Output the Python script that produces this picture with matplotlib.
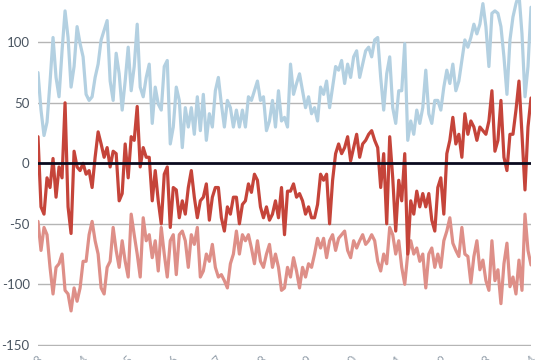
import matplotlib.pyplot as plt
import numpy as np

# values, one point every ~3 px
blue = [75, 44, 23, 34, 67, 104, 71, 55, 93, 126, 104, 63, 80, 113, 99, 88, 57, 52, 55, 71,
        82, 102, 110, 118, 68, 52, 91, 74,
        44, 68, 96, 60, 80, 115, 63, 55, 71, 82, 33, 63, 49, 44, 80, 85, 16, 30, 63, 52,
        13, 46, 30, 46, 24, 55, 27,
        57, 19, 41, 30, 60, 71, 49, 30, 52, 46, 30, 44, 30, 44, 30, 55, 52, 60, 68, 52,
        55, 27, 35, 52, 30, 60, 35,
        38, 30, 82, 57, 66, 74, 60, 46, 55, 41, 46, 35, 63, 57, 68, 46, 63, 80, 77, 85,
        66, 82, 71, 88, 93, 71, 82, 93,
        96, 88, 102, 104, 71, 44, 74, 88, 46, 33, 60, 60, 99, 19, 35, 24, 44, 33, 46, 77,
        41, 33, 52, 52, 44, 63, 77,
        66, 82, 60, 68, 85, 102, 96, 104, 115, 107, 115, 132, 113, 80, 124, 126, 124, 113,
        88, 57, 102, 121, 132, 140, 107, 55, 80, 129]

red = [22, -36, -42, -12, -20, 4, -28, -3, -12, 50, -36, -58, 10, -3, -6, 0, -9, -6, -20, 5,
       26, 16, 5, 13, -3, 10, 8, -31,
       -25, 16, -12, 22, 19, 47, -3, 13, 5, 5, -31, -6, -31, -50, -9, -3, -53, -20, -22, -45,
       -31, -42, -20, -6, -28, -45, -31,
       -28, -17, -47, -28, -20, -20, -45, -56, -36, -42, -28, -28, -50, -34, -31, -17, -24,
       -9, -14, -36, -45, -36, -47, -42, -31, -45, -20,
       -59, -23, -23, -17, -28, -25, -31, -42, -36, -45, -45, -34, -9, -14, -9, -50, -14, 8,
       16, 8, 13, 22, 2, 13, 24, 5, 16, 19,
       24, 27, 19, 13, -20, 8, -50, 22, -12, -56, -14, -31, 8, -75, -31, -42, -23, -36, -25,
       -36, -25, -47, -56, -20, -12, -42, 8,
       19, 38, 16, 24, 5, 41, 24, 35, 30, 19, 30, 27, 24, 35, 60, 10, 19, 52, 5, -6, 24, 24,
       44, 68, 24, -22, 30, 54]

pink = [-48, -72, -53, -59, -86, -108, -86, -83, -75, -105, -108, -122, -103, -114, -103,
        -81, -81, -59, -48, -64, -75, -103, -108, -86, -81, -53, -72, -86,
        -64, -81, -94, -42, -59, -75, -94, -45, -64, -59, -78, -64, -89, -53, -75, -94, -64,
        -59, -92, -59, -56, -64, -86, -59, -67, -53, -94,
        -89, -75, -81, -67, -86, -94, -92, -97, -103, -83, -75, -56, -75, -59, -64, -59, -70,
        -83, -64, -81, -86, -75, -67, -86, -75, -86, -105,
        -103, -86, -94, -78, -89, -103, -86, -94, -83, -86, -75, -62, -70, -62, -78, -64, -59,
        -72, -62, -59, -56, -72, -78, -64, -70, -64, -59, -67,
        -64, -59, -64, -81, -89, -75, -83, -53, -59, -75, -64, -86, -100, -75, -64, -75, -70,
        -81, -75, -103, -75, -70, -86, -75, -86, -64, -56,
        -45, -66, -72, -77, -53, -75, -77, -99, -77, -64, -88, -80, -97, -105, -64, -97, -88,
        -116, -83, -66, -102, -94, -108, -80, -105, -42, -72, -84]

y_ticks = [100, 50, 0, -50, -100, -150]
y_labels = ["100", "50", "0", "-50", "-100", "-150"]
x_labels = ["2013", "2014", "2015", "2016", "2017", "2018",
            "2019", "2020", "2021", "2022", "2023", "2024"]

plt.rcParams["font.family"] = ["Lato", "DejaVu Sans"]

fig = plt.figure(figsize=(5.4, 3.6), dpi=100)
ax = fig.add_axes([38 / 540, 14 / 360, 493 / 540, 346 / 360])

x = np.arange(len(blue))
style = dict(lw=2.3, solid_joinstyle="round", solid_capstyle="round")
ax.plot(x, blue, color="#b3d0e1", zorder=3, **style)
ax.plot(x, pink, color="#de8f88", zorder=3, **style)
ax.plot(x, red, color="#c5443a", zorder=4, **style)

for v in y_ticks:
    if v == 0:
        ax.axhline(0, color="#0a0a1e", lw=2.0, zorder=5)
    else:
        ax.axhline(v, color="#b5b5b5", lw=1.0, zorder=1)

ax.set_xlim(0, len(blue) - 1)
ax.set_ylim(-151, 135)

ax.set_yticks(y_ticks)
ax.set_yticklabels(y_labels, fontsize=9.5, color="#4a5561")
ax.set_xticks(np.linspace(0, len(blue) - 1, len(x_labels)))
ax.set_xticklabels(x_labels, fontsize=9, color="#98a3ae", rotation=45,
                   ha="right", va="top", rotation_mode="anchor")
ax.tick_params(axis="both", length=0)
ax.tick_params(axis="y", pad=6)
ax.tick_params(axis="x", pad=5)
for s in ax.spines.values():
    s.set_visible(False)

fig.savefig("out.png", dpi=100)
